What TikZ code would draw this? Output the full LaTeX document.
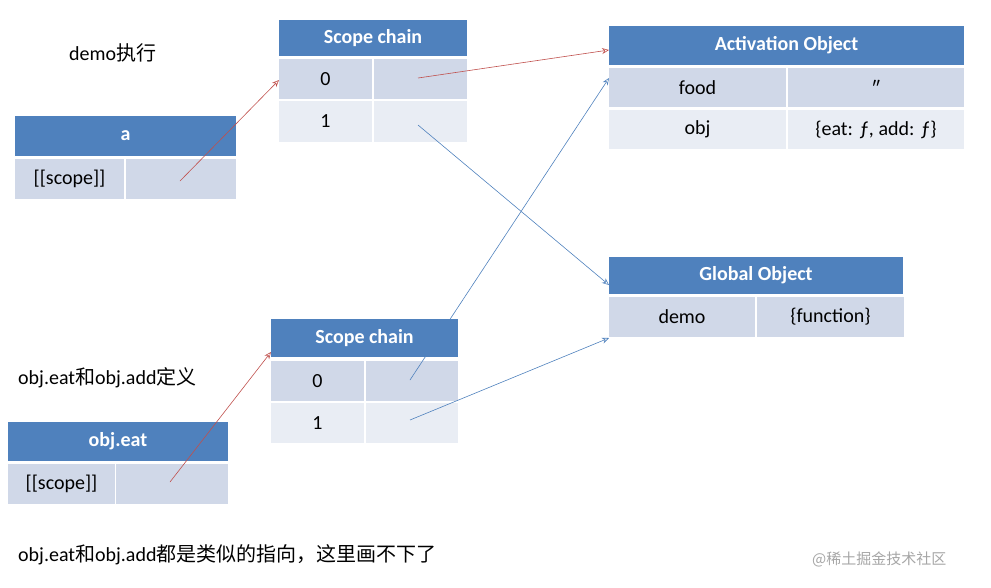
\documentclass[tikz,border=0pt]{standalone}
\usepackage{fontspec}
\setmainfont{Carlito}
\newfontfamily\cjk{Noto Sans CJK SC}
\usetikzlibrary{arrows.meta}
\definecolor{hd}{HTML}{4F81BD}
\definecolor{ra}{HTML}{D0D8E8}
\definecolor{rb}{HTML}{E9EDF4}
\definecolor{br}{HTML}{C0504D}
\definecolor{bl}{HTML}{4F81BD}
\begin{document}
\begin{tikzpicture}[x=1pt,y=-1pt,
  cell/.style={anchor=north west,inner sep=0,outer sep=0,font=\fontsize{20}{22}\selectfont},
  hdr/.style={cell,fill=hd,text=white,font=\bfseries\fontsize{20}{22}\selectfont},
  ca/.style={cell,fill=ra},
  cb/.style={cell,fill=rb},
  arr/.style={-{Stealth[open,length=7pt,width=6pt]},line width=0.6pt},
  lbl/.style={anchor=west,inner sep=0,font=\fontsize{20}{22}\selectfont}]
\useasboundingbox (0,0) rectangle (991,587);
\newcommand\hcell[6]{\node[#1,minimum width=#4pt,minimum height=#5pt] (#6) at (#2,#3) {};}
% Scope chain 1
\node[hdr,minimum width=188pt,minimum height=36pt] (s1h) at (279,20) {Scope chain};
\node[ca,minimum width=93pt,minimum height=40pt] (s1a) at (279,59) {0};
\node[ca,minimum width=93pt,minimum height=40pt] (s1b) at (374,59) {};
\node[cb,minimum width=93pt,minimum height=41pt] (s1c) at (279,101) {1};
\node[cb,minimum width=93pt,minimum height=41pt] (s1d) at (374,101) {};
% a
\node[hdr,minimum width=221pt,minimum height=40pt] (ah) at (15,116) {a};
\node[ca,minimum width=109pt,minimum height=40pt] (aa) at (15,159) {[[scope]]};
\node[ca,minimum width=110pt,minimum height=40pt] (ab) at (126,159) {};
% Activation
\node[hdr,minimum width=355pt,minimum height=39pt] (acth) at (609,26) {Activation Object};
\node[ca,minimum width=177pt,minimum height=39pt] (acta) at (609,68) {food};
\node[ca,minimum width=176pt,minimum height=39pt] (actb) at (788,68) {\char"2033};
\node[cb,minimum width=177pt,minimum height=39pt] (actc) at (609,110) {obj};
\node[cb,minimum width=176pt,minimum height=39pt] (actd) at (788,110) {\{eat: \char"0192, add: \char"0192\}};
% Global
\node[hdr,minimum width=294pt,minimum height=37pt] (glh) at (609,257) {Global Object};
\node[ca,minimum width=146pt,minimum height=40pt] (gla) at (609,297) {demo};
\node[ca,minimum width=147pt,minimum height=40pt] (glb) at (757,297) {\{function\}};
% Scope chain 2
\node[hdr,minimum width=187pt,minimum height=38pt] (s2h) at (271,319) {Scope chain};
\node[ca,minimum width=93pt,minimum height=40pt] (s2a) at (271,361) {0};
\node[ca,minimum width=92pt,minimum height=40pt] (s2b) at (366,361) {};
\node[cb,minimum width=93pt,minimum height=40pt] (s2c) at (271,403) {1};
\node[cb,minimum width=92pt,minimum height=40pt] (s2d) at (366,403) {};
% obj.eat
\node[hdr,minimum width=220pt,minimum height=39pt] (eh) at (8,422) {obj.eat};
\node[ca,minimum width=107pt,minimum height=40pt] (ea) at (8,464) {[[scope]]};
\node[ca,minimum width=112pt,minimum height=40pt] (eb) at (116,464) {};
% labels
\node[lbl] (t1) at (69,53) {demo{\cjk 执行}};
\node[lbl] (t2) at (18,378) {obj.eat{\cjk 和}obj.add{\cjk 定义}};
\node[lbl] (t3) at (18,555) {obj.eat{\cjk 和}obj.add{\cjk 都是类似的指向，这里画不下了}};
\node[anchor=west,inner sep=0,text=gray!70,font=\cjk\fontsize{15}{17}\selectfont] (wm) at (812,559) {@稀土掘金技术社区};
% coordinates
\coordinate (p1) at (180,181);
\coordinate (q1) at (279,80);
\coordinate (p2) at (418,78);
\coordinate (q2) at (609,50);
\coordinate (p3) at (418,125);
\coordinate (q3) at (609,285);
\coordinate (p4) at (410,380);
\coordinate (q4) at (609,78);
\coordinate (p5) at (410,420);
\coordinate (q5) at (609,338);
\coordinate (p6) at (170,482);
\coordinate (q6) at (271,352);
\draw[arr,br] (p1) -- (q1);
\draw[arr,br] (p2) -- (q2);
\draw[arr,bl] (p3) -- (q3);
\draw[arr,bl] (p4) -- (q4);
\draw[arr,bl] (p5) -- (q5);
\draw[arr,br] (p6) -- (q6);
\end{tikzpicture}
\end{document}
